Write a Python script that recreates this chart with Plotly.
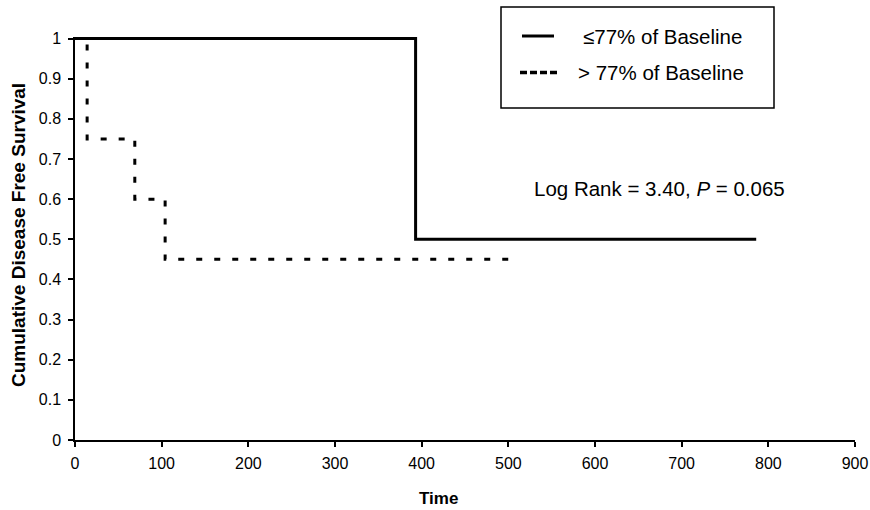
import plotly.graph_objects as go

# ---- data ----
low_time = [0, 393, 786]
low_surv = [1.0, 0.5, 0.5]
high_time = [0, 14, 69, 104, 501]
high_surv = [1.0, 0.75, 0.60, 0.45, 0.45]

series_names = ["\u226477% of Baseline", "> 77% of Baseline"]
x_ticks = [0, 100, 200, 300, 400, 500, 600, 700, 800, 900]
y_ticks = [0, 0.1, 0.2, 0.3, 0.4, 0.5, 0.6, 0.7, 0.8, 0.9, 1]
y_ticktext = ["0", "0.1", "0.2", "0.3", "0.4", "0.5", "0.6", "0.7", "0.8", "0.9", "1"]
x_title = "Time"
y_title = "Cumulative Disease Free Survival"
stat_text = "Log Rank = 3.40, <i>P</i> = 0.065"

FONT = "Liberation Sans, Arial, sans-serif"
W, H = 870, 510
L, R, T, B = 75, 15, 37, 70
pw, ph = W - L - R, H - T - B


def px(x):
    return (x - L) / pw


def py(y):
    return (H - B - y) / ph


DASH = "6px,12px"

fig = go.Figure()
fig.add_trace(go.Scatter(x=high_time, y=high_surv, mode="lines", line_shape="hv",
                         line=dict(color="black", width=3, dash=DASH),
                         name=series_names[1], showlegend=False))
fig.add_trace(go.Scatter(x=low_time, y=low_surv, mode="lines", line_shape="hv",
                         line=dict(color="black", width=3),
                         name=series_names[0], showlegend=False))

shapes = [
    dict(type="rect", xref="paper", yref="paper", x0=px(501), x1=px(774), y0=py(108), y1=py(7),
         line=dict(color="black", width=1.5), fillcolor="white", layer="above"),
    dict(type="line", xref="paper", yref="paper", x0=px(522), x1=px(554), y0=py(36), y1=py(36),
         line=dict(color="black", width=3)),
    dict(type="line", xref="paper", yref="paper", x0=px(520), x1=px(558), y0=py(72.5), y1=py(72.5),
         line=dict(color="black", width=3.5, dash="7px,3px")),
]

annotations = [
    dict(xref="paper", yref="paper", x=px(581), y=py(36), text=series_names[0], showarrow=False,
         xanchor="left", yanchor="middle", font=dict(family=FONT, size=20.5, color="black")),
    dict(xref="paper", yref="paper", x=px(576), y=py(72.5), text=series_names[1], showarrow=False,
         xanchor="left", yanchor="middle", font=dict(family=FONT, size=20.5, color="black")),
    dict(xref="paper", yref="paper", x=px(532), y=py(188), text=stat_text, showarrow=False,
         xanchor="left", yanchor="middle", font=dict(family=FONT, size=20.5, color="black")),
    dict(xref="paper", yref="paper", x=px(438), y=py(509), text="<b>" + x_title + "</b>",
         showarrow=False, xanchor="center", yanchor="bottom", borderpad=0,
         font=dict(family=FONT, size=17, color="black")),
    dict(xref="paper", yref="paper", x=px(18), y=py(235), text="<b>" + y_title + "</b>",
         showarrow=False, xanchor="center", yanchor="middle", textangle=-90,
         font=dict(family=FONT, size=19, color="black")),
]

fig.update_layout(
    width=W, height=H,
    margin=dict(l=L, r=R, t=T, b=B, pad=0),
    paper_bgcolor="white", plot_bgcolor="white",
    font=dict(family=FONT, size=16, color="black"),
    shapes=shapes, annotations=annotations,
    xaxis=dict(range=[0, 900], tickvals=x_ticks, ticks="outside", ticklen=5, tickwidth=1.5,
               tickcolor="black", showline=True, linecolor="black", linewidth=1.5,
               showgrid=False, zeroline=False, automargin=False, ticklabelstandoff=3),
    yaxis=dict(range=[0, 1.004], tickvals=y_ticks, ticktext=y_ticktext, ticks="outside",
               ticklen=5, tickwidth=1.5, tickcolor="black", showline=True, linecolor="black",
               linewidth=1.5, showgrid=False, zeroline=False, automargin=False,
               ticklabelstandoff=4),
)

fig.write_html("out.html")
